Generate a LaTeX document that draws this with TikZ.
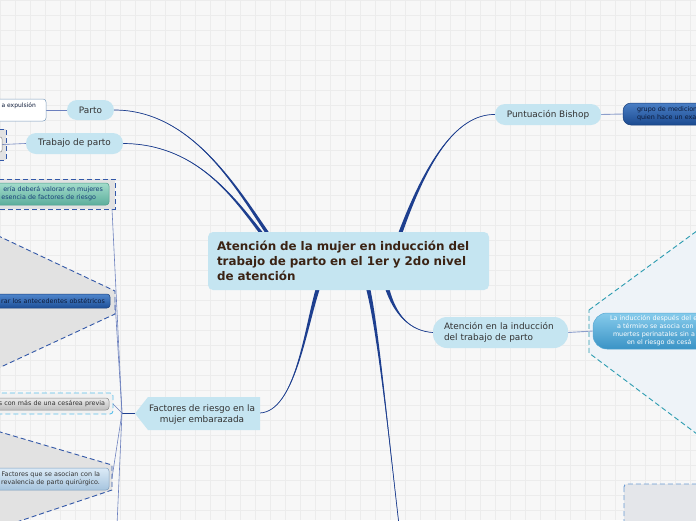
\documentclass[tikz,border=0pt]{standalone}
\usepackage{fontspec}
\setmainfont{DejaVu Sans}
\usetikzlibrary{calc}
\definecolor{bgc}{HTML}{F7F7F7}
\definecolor{gridc}{HTML}{ECECEC}
\definecolor{pillc}{HTML}{C5E5F1}
\definecolor{pilltext}{HTML}{333333}
\definecolor{centraltext}{HTML}{3B2314}
\definecolor{branchc}{HTML}{1E3F8F}
\definecolor{subc}{HTML}{6C80BE}
\definecolor{lightsub}{HTML}{8C9ECB}
\definecolor{bndblue}{HTML}{3358A8}
\definecolor{cyanbnd}{HTML}{5BC0EB}
\definecolor{tealbnd}{HTML}{2A9BB0}
\definecolor{brbnd}{HTML}{6A9BD3}
\definecolor{bgray}{HTML}{E2E2E2}
\definecolor{bglight}{HTML}{F1F1F1}
\definecolor{hexfill}{HTML}{EEF3F8}
\definecolor{brfill}{HTML}{E4E6EA}
\definecolor{tealtop}{HTML}{A3DCCB}
\definecolor{tealbot}{HTML}{5CAE9C}
\definecolor{tealdraw}{HTML}{4E9C8A}
\definecolor{bluetop}{HTML}{4F86CC}
\definecolor{bluebot}{HTML}{1D4F98}
\definecolor{bluedraw}{HTML}{1A3F7A}
\definecolor{graytop}{HTML}{EAEAEA}
\definecolor{graybot}{HTML}{BDBDBD}
\definecolor{graydraw}{HTML}{8A8A8A}
\definecolor{lbtop}{HTML}{DCEBF7}
\definecolor{lbbot}{HTML}{A6C4DE}
\definecolor{lbdraw}{HTML}{7D9DBD}
\definecolor{attop}{HTML}{86CBEB}
\definecolor{atbot}{HTML}{3A93C6}
\definecolor{atdraw}{HTML}{5AA9D3}
\definecolor{bitop}{HTML}{4A7FC5}
\definecolor{bibot}{HTML}{1B4A90}
\definecolor{darktext}{HTML}{0D1B3A}
\pgfdeclarelayer{gridlayer}
\pgfdeclarelayer{links}
\pgfsetlayers{gridlayer,links,main}
\tikzset{
  pill/.style={fill=pillc, rounded corners=10pt, inner sep=0pt, text=pilltext,
    font=\fontsize{8.9}{11}\selectfont},
  bnd/.style={dash pattern=on 5pt off 3pt, line width=0.9pt},
  sublink/.style={draw=subc, line width=0.6pt},
  smalltext/.style={font=\fontsize{6}{8}\selectfont},
  leafbox/.style={rounded corners=3pt, inner ysep=0pt, line width=0.5pt,
    font=\fontsize{6.4}{8}\selectfont, text=darktext},
}
\newcommand\mmbranch[4]{%
  \fill[branchc] (#1) .. controls (#2) and ($(#3)+(-1.1,0)$) .. ($(#4)+(-2.1,0)$)
     -- ($(#4)+(2.1,0)$) .. controls ($(#3)+(1.1,0)$) and (#2) .. (#1) -- cycle;
  \draw[branchc, line width=0.7pt] (#1) .. controls (#2) and (#3) .. (#4);
}
\begin{document}
\begin{tikzpicture}[x=1pt,y=-1pt]
\useasboundingbox (0,0) rectangle (696,520);
\begin{pgfonlayer}{gridlayer}
  \clip (0,0) rectangle (696,520);
  \fill[bgc] (0,0) rectangle (696,520);
  \foreach \g in {0,15,...,690} \draw[gridc, line width=0.4pt] (\g,0) -- (\g,520);
  \foreach \g in {0,15,...,515} \draw[gridc, line width=0.4pt] (0,\g) -- (696,\g);
\end{pgfonlayer}

% ---------- nodes ----------
\node[fill=pillc, rounded corners=5pt, minimum width=281pt, minimum height=58pt,
  text width=263pt, inner xsep=9pt, inner ysep=0pt, align=left, text=centraltext,
  font=\bfseries\fontsize{11.9}{15}\selectfont] (central) at (348.5,261)
  {Atención de la mujer en inducción del\\trabajo de parto en el 1er y 2do nivel\\de atención};

\node[pill, minimum width=47pt, minimum height=20pt] (parto) at (90.5,110) {Parto};
\node[pill, minimum width=97pt, minimum height=21pt] (trab) at (74.5,143.5) {Trabajo de parto};
\node[pill, minimum width=106pt, minimum height=21pt] (bishop) at (548,114.5) {Puntuación Bishop};
\node[pill, rounded corners=14pt, minimum width=135pt, minimum height=31pt,
  text width=113pt, inner xsep=11pt, align=left] (aten) at (500.5,332.5)
  {Atención en la inducción\\del trabajo de parto};

% Factores (arrow-like shape)
\fill[pillc] (135,413.5) -- (148,397) -- (260,397) -- (260,430) -- (148,430) -- cycle;
\node[align=center, text=pilltext, inner sep=0pt, font=\fontsize{8.9}{11.5}\selectfont]
  (fact) at (202,414.5) {Factores de riesgo en la\\mujer embarazada};
\coordinate (factR) at (260,413);
\coordinate (factL) at (135,413);
\coordinate (hub) at (122,413);

% Parto child
\node[draw=lbdraw, fill=white, rounded corners=3pt, minimum width=106pt, minimum height=22pt,
  line width=0.5pt] (pbox) at (-7,110) {};
\node[smalltext, text=darktext, anchor=east, inner sep=0pt] (ptxt) at (36,106) {a expulsión};

% Trabajo child
\begin{pgfonlayer}{links}
\filldraw[bnd, draw=bndblue, fill=bgray] (-10,129) rectangle (6,160);
\end{pgfonlayer}
\node[draw=graydraw, fill=white, rounded corners=2pt, minimum width=20pt, minimum height=15pt,
  line width=0.5pt] (tbox) at (-8,144.5) {};

% Bishop child
\node[leafbox, top color=bitop, bottom color=bibot, draw=bluedraw, rounded corners=8pt,
  minimum width=100pt, minimum height=22pt, text width=72pt, inner xsep=14pt, align=left]
  (bchild) at (673,114) {grupo de medicion\\quien hace un exa};

% Atención child with hexagon boundary
\begin{pgfonlayer}{links}
\filldraw[bnd, draw=tealbnd, fill=hexfill] (589,310) -- (705,225) -- (705,440) -- (589,353) -- cycle;
\end{pgfonlayer}
\node[leafbox, top color=attop, bottom color=atbot, draw=atdraw, rounded corners=14pt,
  minimum width=167pt, minimum height=36pt, text width=133pt, inner xsep=17pt,
  align=left, text=white] (achild) at (676.5,331)
  {La inducción después del e\\\hspace*{7pt}a término se asocia con\\\hspace*{3pt}muertes perinatales sin a\\\hspace*{17pt}en el riesgo de cesá};

% bottom-right boundary
\begin{pgfonlayer}{links}
\filldraw[bnd, draw=brbnd, fill=brfill, rounded corners=3pt] (624,484) rectangle (710,530);
\end{pgfonlayer}

% Factores children boundaries
\begin{pgfonlayer}{links}
\filldraw[bnd, draw=bndblue, fill=bgray] (-10,179) rectangle (115,209);
\filldraw[bnd, draw=bndblue, fill=bgray] (-10,232) -- (115,291) -- (115,314) -- (-10,372) -- cycle;
\filldraw[bnd, draw=cyanbnd, fill=bglight, rounded corners=3pt] (-10,393) rectangle (113,414);
\filldraw[bnd, draw=bndblue, fill=bgray] (-10,429) -- (112,465) -- (112,490) -- (-10,531) -- cycle;
\end{pgfonlayer}
\coordinate (bnda) at (112,209);
\coordinate (bndb) at (115,302);
\coordinate (bndc) at (113,404);
\coordinate (bndd) at (112,478);
\coordinate (bnde) at (117,525);

\node[leafbox, top color=tealtop, bottom color=tealbot, draw=tealdraw, minimum width=169pt,
  minimum height=22pt, text width=157pt, inner xsep=6pt, align=right, text=bluedraw]
  (boxa) at (24.5,194) {ería deberá valorar en mujeres\\esencia de factores de riesgo\hspace*{7pt}};
\node[leafbox, top color=bluetop, bottom color=bluebot, draw=bluedraw, minimum width=170pt,
  minimum height=14pt, text width=160pt, inner xsep=5pt, align=right]
  (boxb) at (25,301) {rar los antecedentes obstétricos};
\node[leafbox, top color=graytop, bottom color=graybot, draw=graydraw, minimum width=169pt,
  minimum height=12pt, text width=161pt, inner xsep=4pt, align=right, text=pilltext]
  (boxc) at (24.5,404) {s con más de una cesárea previa};
\node[leafbox, top color=lbtop, bottom color=lbbot, draw=lbdraw, minimum width=169pt,
  minimum height=22pt, text width=151pt, inner xsep=9pt, align=right, text=pilltext]
  (boxd) at (24.5,479) {Factores que se asocian con la\hspace*{3pt}\\revalencia de parto quirúrgico.};

% ---------- connectors ----------
\coordinate (cP) at (268,234);
\coordinate (cT) at (262,234);
\coordinate (cB) at (400,234);
\coordinate (cF) at (318,288);
\coordinate (cD) at (368,288);
\coordinate (cA) at (387,288);
\coordinate (downEnd) at (399,525);
\begin{pgfonlayer}{links}
  \mmbranch{parto.east}{190,110}{235,185}{cP}
  \mmbranch{trab.east}{195,144}{232,195}{cT}
  \mmbranch{bishop.west}{455,114}{425,165}{cB}
  \mmbranch{factR}{295,411}{305,330}{cF}
  \mmbranch{aten.west}{410,331}{395,315}{cA}
  \mmbranch{downEnd}{388,430}{378,330}{cD}
  \draw[branchc, line width=1pt] (factL) -- (hub);
  \draw[sublink] (pbox.east) -- (parto.west);
  \draw[sublink] (tbox.east) -- (trab.west);
  \draw[sublink, draw=lightsub, line width=0.9pt] (bishop.east) -- (bchild.west);
  \draw[sublink, draw=lightsub, line width=0.9pt] (aten.east) -- (achild.west);
  \draw[sublink] (hub) -- (bnda);
  \draw[sublink] (hub) -- (bndb);
  \draw[sublink] (hub) -- (bndc);
  \draw[sublink] (hub) -- (bndd);
  \draw[sublink] (hub) -- (bnde);
\end{pgfonlayer}
\end{tikzpicture}
\end{document}
